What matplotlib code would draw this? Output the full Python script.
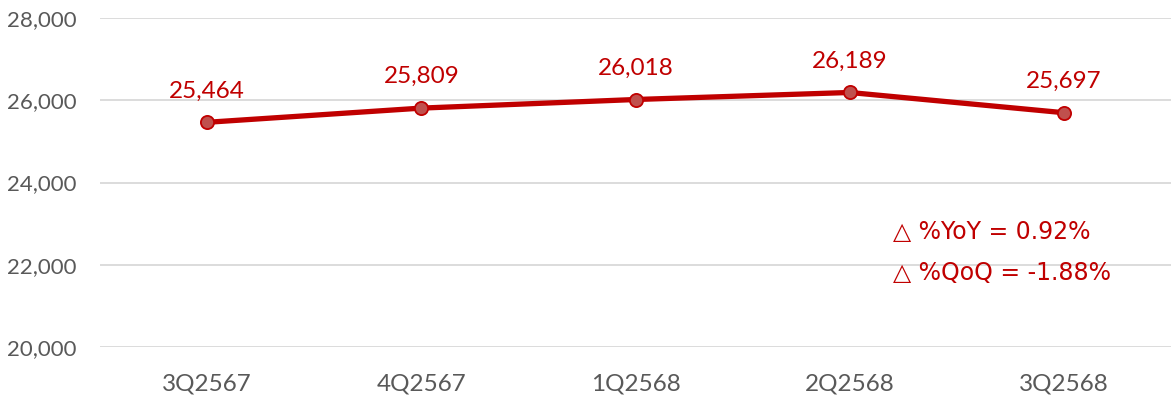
import matplotlib
matplotlib.use("Agg")
import matplotlib.pyplot as plt
from matplotlib.ticker import FuncFormatter

quarters = ["3Q2567", "4Q2567", "1Q2568", "2Q2568", "3Q2568"]
values = [25464, 25809, 26018, 26189, 25697]
yoy_pct = 0.92
qoq_pct = -1.88

RED = "#C00000"
plt.rcParams["font.family"] = ["Lato", "DejaVu Sans"]

fig = plt.figure(figsize=(11.71, 4.05), dpi=100)
ax = fig.add_axes([100 / 1171, 1 - 347 / 405, 1 - 100 / 1171, (347 - 18) / 405])

x = list(range(len(quarters)))
ax.plot(x, values, color=RED, lw=3.8, marker="o", ms=9.5,
        mfc="#C0504D", mec=RED, mew=1.3, solid_capstyle="round", zorder=3)

for xi, v in zip(x, values):
    ax.annotate(f"{v:,}", (xi, v), xytext=(0, 15), textcoords="offset points",
                ha="center", va="bottom", fontsize=17.5, color=RED)

ax.set_xlim(-0.5, len(quarters) - 0.5)
ax.set_ylim(20000, 28000)
ax.set_yticks(range(20000, 28001, 2000))
ax.yaxis.set_major_formatter(FuncFormatter(lambda v, p: f"{int(v):,}"))
ax.set_xticks(x)
ax.set_xticklabels(quarters)
ax.grid(axis="y", color="#D9D9D9", lw=1.3)
ax.set_axisbelow(True)
for s in ax.spines.values():
    s.set_visible(False)
ax.tick_params(length=0, labelcolor="#595959")
ax.tick_params(axis="x", pad=19, labelsize=17.5)
ax.tick_params(axis="y", pad=17, labelsize=16)

# change summary, bottom right
ax.text(0.740, 0.35, f"\u25B3 %YoY = {yoy_pct:.2f}%", transform=ax.transAxes,
        fontsize=17, color=RED, va="center", ha="left", family="DejaVu Sans")
ax.text(0.740, 0.225, f"\u25B3 %QoQ = {qoq_pct:.2f}%", transform=ax.transAxes,
        fontsize=17, color=RED, va="center", ha="left", family="DejaVu Sans")

fig.savefig("out.png", dpi=100)
